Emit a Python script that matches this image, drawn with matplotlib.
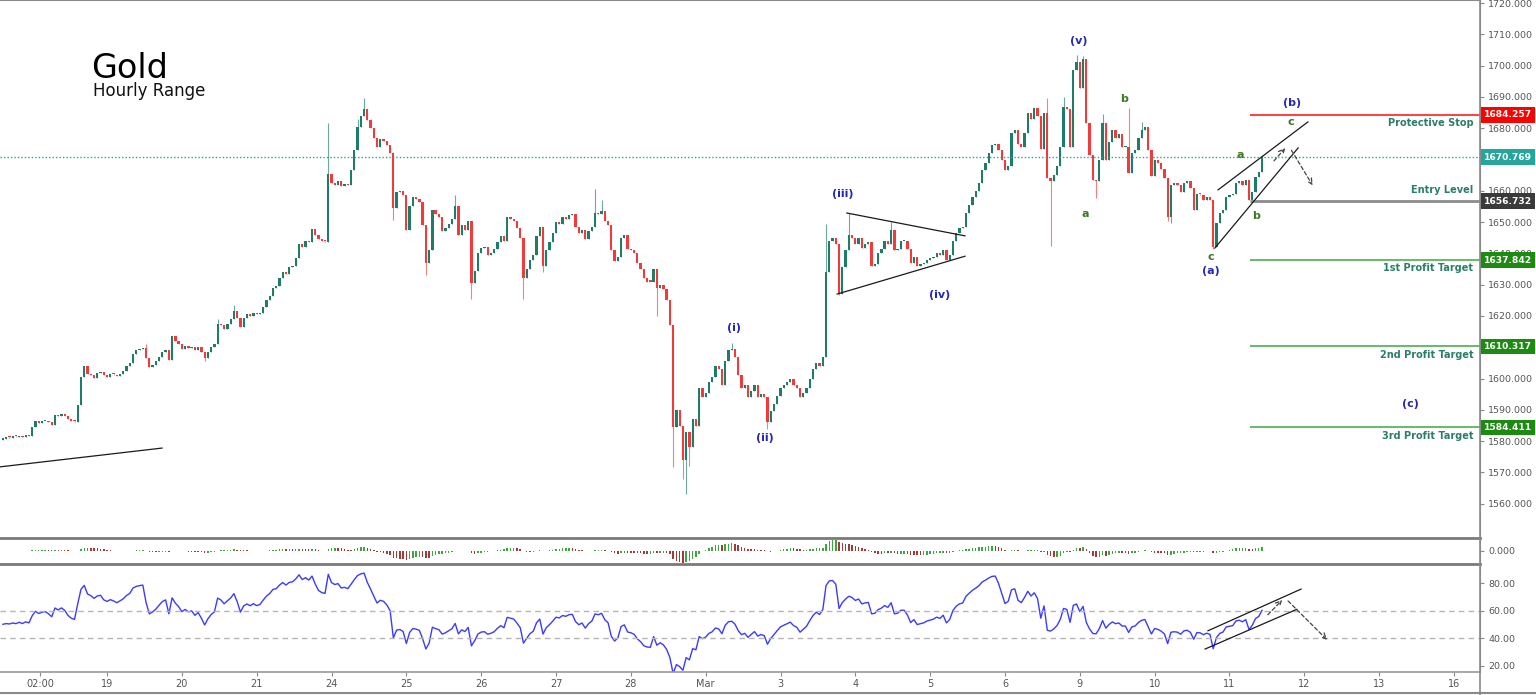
import numpy as np
import pandas as pd
import matplotlib
matplotlib.use("Agg")
import matplotlib.pyplot as plt
from matplotlib.lines import Line2D
from matplotlib import transforms

# cierres horarios (un bloque por sesion)
close_feb18 = [1580.8, 1581.2, 1581.0, 1581.5, 1581.2, 1581.8, 1581.3, 1582.0, 1581.6, 1584.5,
               1586.5, 1585.8, 1586.3, 1586.6, 1586.0, 1585.2, 1588.5, 1588.0, 1588.8, 1588.2,
               1587.0, 1586.3, 1586.0, 1591.5, 1600.5, 1604.0, 1601.5, 1601.0, 1600.2, 1601.8,
               1602.2, 1601.0]
close_feb19 = [1600.6, 1601.5, 1601.2, 1600.8, 1601.6, 1602.5, 1604.0, 1605.0, 1608.0, 1609.0,
               1609.5, 1609.8, 1606.5, 1603.8, 1604.5, 1605.5, 1607.0, 1608.5, 1609.2, 1606.0,
               1613.5, 1612.0, 1611.0]
close_feb20 = [1609.5, 1610.5, 1609.8, 1610.2, 1609.0, 1610.0, 1608.5, 1606.5, 1608.5, 1610.0,
               1611.0, 1617.5, 1617.0, 1616.0, 1617.5, 1619.0, 1621.5, 1619.5, 1616.5, 1619.5,
               1620.5, 1620.0, 1621.0]
close_feb21 = [1620.5, 1621.0, 1623.0, 1625.0, 1626.5, 1629.0, 1629.5, 1632.0, 1634.0, 1633.5,
               1635.5, 1636.0, 1638.5, 1643.0, 1642.0, 1644.0, 1643.5, 1647.8, 1646.0, 1644.5,
               1644.0, 1643.8, 1665.5]
close_feb24 = [1662.5, 1661.8, 1663.0, 1661.5, 1662.2, 1661.8, 1666.5, 1673.0, 1680.5, 1684.0,
               1686.0, 1682.6, 1680.0, 1677.0, 1674.0, 1676.5, 1676.0, 1674.5, 1672.0, 1654.5,
               1659.6, 1660.0, 1658.5]
close_feb25 = [1647.5, 1655.0, 1658.0, 1657.5, 1656.5, 1649.0, 1637.0, 1641.0, 1654.0, 1652.5,
               1651.5, 1647.0, 1648.0, 1649.5, 1651.0, 1655.0, 1646.0, 1649.0, 1647.5, 1650.5,
               1630.5, 1634.5, 1640.0]
close_feb26 = [1641.7, 1642.0, 1639.5, 1640.2, 1641.3, 1643.6, 1645.5, 1644.0, 1651.6, 1651.0,
               1650.5, 1648.0, 1645.0, 1632.0, 1635.0, 1638.0, 1639.5, 1645.5, 1648.4, 1636.0,
               1641.0, 1643.6, 1646.5]
close_feb27 = [1650.0, 1649.5, 1651.5, 1651.0, 1652.3, 1652.5, 1648.4, 1646.5, 1647.5, 1644.5,
               1647.0, 1648.5, 1653.0, 1652.6, 1653.5, 1650.5, 1649.0, 1641.0, 1637.5, 1639.0,
               1645.0, 1646.0, 1641.5]
close_feb28 = [1641.0, 1640.0, 1637.0, 1635.0, 1632.0, 1631.0, 1630.8, 1635.0, 1629.0, 1630.0,
               1628.5, 1625.0, 1617.0, 1584.5, 1590.0, 1585.0, 1574.0, 1583.0, 1578.0, 1587.0,
               1585.0, 1597.0, 1594.0]
close_mar02 = [1595.5, 1599.0, 1600.5, 1604.0, 1603.0, 1598.0, 1605.6, 1609.0, 1609.5, 1607.0,
               1601.0, 1597.0, 1598.0, 1594.0, 1596.0, 1598.0, 1594.0, 1595.0, 1594.0, 1586.0,
               1589.5, 1592.0, 1594.5]
close_mar03 = [1597.0, 1598.0, 1599.0, 1600.0, 1598.0, 1597.0, 1594.0, 1595.5, 1597.0, 1600.0,
               1603.0, 1605.0, 1604.0, 1607.0, 1634.0, 1644.0, 1645.0, 1643.0, 1627.0, 1635.6,
               1641.0, 1646.0, 1645.0]
close_mar04 = [1643.0, 1645.0, 1641.7, 1643.0, 1643.5, 1636.0, 1636.5, 1640.0, 1641.5, 1644.0,
               1643.0, 1647.5, 1641.0, 1641.5, 1644.0, 1644.0, 1641.5, 1637.0, 1639.0, 1636.0,
               1636.5, 1637.0, 1638.0]
close_mar05 = [1638.5, 1639.0, 1640.0, 1639.5, 1641.0, 1638.0, 1639.5, 1644.0, 1646.5, 1648.0,
               1648.5, 1653.0, 1655.5, 1658.0, 1660.0, 1662.5, 1666.7, 1669.0, 1672.0, 1674.5,
               1675.0, 1673.0, 1670.0]
close_mar06 = [1666.5, 1668.0, 1678.5, 1679.5, 1675.0, 1674.0, 1678.5, 1685.0, 1683.0, 1686.5,
               1684.0, 1673.5, 1685.0, 1664.0, 1663.0, 1665.0, 1668.0, 1674.0, 1686.8, 1686.0,
               1674.0, 1698.6, 1701.0]
close_mar09 = [1693.0, 1702.0, 1681.7, 1671.4, 1663.5, 1663.0, 1670.0, 1681.7, 1670.0, 1675.6,
               1679.5, 1677.0, 1678.0, 1674.0, 1674.0, 1665.6, 1672.0, 1673.0, 1677.0, 1679.5,
               1680.4, 1673.0, 1664.6]
close_mar10 = [1670.0, 1669.0, 1667.0, 1664.0, 1651.6, 1662.0, 1662.5, 1662.0, 1659.7, 1662.5,
               1663.0, 1661.0, 1654.0, 1659.0, 1658.7, 1657.0, 1658.0, 1657.0, 1642.0, 1649.7,
               1653.0, 1654.0, 1658.0]
close_mar11 = [1658.5, 1659.0, 1662.5, 1663.0, 1662.0, 1663.5, 1657.0, 1659.7, 1664.4, 1666.0,
               1670.8]
first_open = 1580.5

# mechas visibles (indice de vela -> precio)
wick_high = {44: 1611.0, 66: 1619.0, 71: 1623.5, 100: 1681.7, 109: 1683.0, 111: 1689.7,
             113: 1683.0, 120: 1672.5, 139: 1658.7, 182: 1660.5, 184: 1657.0, 224: 1611.4,
             253: 1649.5, 260: 1653.0, 273: 1650.0, 321: 1689.5, 326: 1690.0, 330: 1703.4,
             332: 1703.0, 338: 1684.5, 346: 1686.5, 350: 1682.0, 387: 1671.5}
wick_low = {62: 1605.5, 120: 1650.7, 130: 1633.0, 144: 1625.5, 160: 1625.5, 166: 1634.0,
            201: 1620.0, 206: 1571.8, 209: 1568.0, 210: 1563.2, 211: 1572.0, 235: 1584.0,
            257: 1626.8, 322: 1642.3, 336: 1657.7, 358: 1650.5, 359: 1649.7, 372: 1641.5}

# niveles de la operacion
level_names = ["Protective Stop", "Entry Level", "1st Profit Target",
               "2nd Profit Target", "3rd Profit Target"]
level_values = [1684.257, 1656.732, 1637.842, 1610.317, 1584.411]
last_price = 1670.769

# etiquetas de los ejes
day_labels = ["19", "20", "21", "24", "25", "26", "27", "28", "Mar",
              "3", "4", "5", "6", "9", "10", "11", "12", "13", "16"]
price_ticks = [1560, 1570, 1580, 1590, 1600, 1620, 1630, 1640, 1650, 1660,
               1680, 1690, 1700, 1710, 1720]

closes = np.array(close_feb18 + close_feb19 + close_feb20 + close_feb21 + close_feb24 +
                  close_feb25 + close_feb26 + close_feb27 + close_feb28 + close_mar02 +
                  close_mar03 + close_mar04 + close_mar05 + close_mar06 + close_mar09 +
                  close_mar10 + close_mar11)
n = len(closes)
idx = np.arange(n)
opens = np.r_[first_open, closes[:-1]]
highs = np.maximum(opens, closes)
lows = np.minimum(opens, closes)
for i, v in wick_high.items():
    highs[i] = max(highs[i], v)
for i, v in wick_low.items():
    lows[i] = min(lows[i], v)

# RSI de Wilder, arrancando con ganancias/perdidas medias iguales
avg_g, avg_l = 1.5, 1.5
rsi = [50.0]
for d in np.diff(closes):
    avg_g = (avg_g * 13 + max(d, 0)) / 14
    avg_l = (avg_l * 13 + max(-d, 0)) / 14
    rsi.append(100 - 100 / (1 + avg_g / avg_l))
rsi = np.array(rsi)

# histograma MACD
s = pd.Series(closes)
macd = s.ewm(span=12, adjust=False).mean() - s.ewm(span=26, adjust=False).mean()
hist = (macd - macd.ewm(span=9, adjust=False).mean()).values

# figura
W, H = 1536, 695
fig = plt.figure(figsize=(W / 100, H / 100), dpi=100)
plt.rcParams['font.family'] = ['DejaVu Sans']


def rect(x0, y0, x1, y1):
    return [x0 / W, 1 - y1 / H, (x1 - x0) / W, (y1 - y0) / H]


ax = fig.add_axes(rect(0, 0, 1480, 538))
axh = fig.add_axes(rect(0, 540, 1480, 564))
axr = fig.add_axes(rect(0, 566, 1480, 672))

XL = (-0.9, 454.0)
grey = '#555555'
for a in (ax, axh, axr):
    a.set_xlim(*XL)
    a.yaxis.tick_right()
    a.spines['left'].set_visible(False)
    a.spines['right'].set_color('#8a8a8a')
    a.tick_params(axis='y', length=3, colors='#8a8a8a', labelcolor=grey, labelsize=6.8, pad=3)
    a.set_xticks([])
ax.spines['top'].set_color('#8a8a8a')
ax.spines['top'].set_linewidth(1.5)
ax.spines['bottom'].set_color('#7a7a7a')
ax.spines['bottom'].set_linewidth(2)
axh.spines['top'].set_visible(False)
axh.spines['bottom'].set_color('#7a7a7a')
axh.spines['bottom'].set_linewidth(2)
axr.spines['top'].set_visible(False)
axr.spines['bottom'].set_color('#9a9a9a')
axr.spines['bottom'].set_linewidth(1.2)

# velas
up_c, dn_c = '#1f7d67', '#f23a3a'
cols = np.where(closes >= opens, up_c, dn_c)
ax.vlines(idx, lows, highs, colors=cols, lw=0.8, alpha=0.65)
body = np.where(np.abs(closes - opens) < 0.4, 0.4, closes - opens)
ax.bar(idx, body, bottom=opens, width=0.7, color=cols, linewidth=0)
ax.set_ylim(1549.07, 1720.96)
ax.set_yticks(price_ticks)
ax.yaxis.set_major_formatter(matplotlib.ticker.FormatStrFormatter('%.3f'))

# precio actual
ax.axhline(last_price, color='#26a69a', lw=1, ls=(0, (1, 1.5)))

# niveles
line_cols = ['#ff1f1f', '#8c8c8c', '#4caf50', '#4caf50', '#4caf50']
line_w = [1.2, 2.0, 1.2, 1.2, 1.2]
box_cols = ['#ff0000', '#3a3a3a', '#1d8a12', '#1d8a12', '#1d8a12']
text_off = [-6, 8, -6, -6, -6]
ytr = transforms.blended_transform_factory(ax.transAxes, ax.transData)
for name, val, lc, lw, bc, off in zip(level_names, level_values, line_cols, line_w,
                                      box_cols, text_off):
    ax.hlines(val, 383.3, XL[1], color=lc, lw=lw)
    ax.annotate(name, (452, val), xytext=(0, off), textcoords='offset points',
                ha='right', va='center', fontsize=7, fontweight='bold', color='#2b7e6a')
    ax.text(1.0 + 4 / 1480, val, f"{val:.3f}", transform=ytr, ha='left', va='center',
            fontsize=6.6, fontweight='bold', color='white', clip_on=False, zorder=5,
            bbox=dict(boxstyle='square,pad=0.35', fc=bc, ec='none'))
ax.text(1.0 + 4 / 1480, last_price, f"{last_price:.3f}", transform=ytr, ha='left',
        va='center', fontsize=6.6, fontweight='bold', color='white', clip_on=False, zorder=5,
        bbox=dict(boxstyle='square,pad=0.35', fc='#26a69a', ec='none'))

# titulo
ax.text(91 / 1480, 1 - 68 / 538, "Gold", transform=ax.transAxes, fontsize=24,
        va='center', ha='left', color='black')
ax.text(93 / 1480, 1 - 91 / 538, "Hourly Range", transform=ax.transAxes, fontsize=12,
        va='center', ha='left', color='#111111')

# ondas de Elliott
blue, olive = '#2626b8', '#3b7a22'
wave_blue = [("(i)", 224.7, 1616.2), ("(ii)", 234.2, 1581.0), ("(iii)", 258.2, 1659.0),
             ("(iv)", 288.0, 1626.7), ("(v)", 330.7, 1707.9), ("(a)", 371.3, 1634.4),
             ("(b)", 396.2, 1688.1), ("(c)", 432.5, 1591.9)]
wave_green = [("a", 332.6, 1652.6), ("b", 344.6, 1689.3), ("c", 371.3, 1638.9),
              ("a", 380.2, 1671.4), ("b", 385.1, 1652.0), ("c", 395.9, 1682.0)]
for t, x, y in wave_blue:
    ax.text(x, y, t, color=blue, fontsize=8, fontweight='bold', ha='center', va='center')
for t, x, y in wave_green:
    ax.text(x, y, t, color=olive, fontsize=8, fontweight='bold', ha='center', va='center')

# lineas dibujadas
lk = dict(color='#1a1a1a', lw=0.9)
ax.plot([259.4, 295.7], [1652.9, 1645.6], **lk)
ax.plot([256.4, 295.7], [1627.0, 1639.1], **lk)
ax.plot([-0.9, 48.9], [1571.8, 1577.8], **lk)
ax.plot([372.5, 398.1], [1641.7, 1673.7], **lk)
ax.plot([373.5, 401.1], [1660.3, 1682.0], **lk)
ak = dict(arrowstyle='->', linestyle=(0, (3, 2)), color='#444444', lw=0.9)
ax.annotate('', xy=(394.7, 1674.3), xytext=(390.1, 1668.9), arrowprops=ak)
ax.annotate('', xy=(403.0, 1661.0), xytext=(395.6, 1673.7), arrowprops=ak)

# histograma
hcols = np.where(np.r_[0, np.diff(hist)] >= 0, '#3fa63f', '#a33a3a')
axh.bar(idx, hist, width=0.45, color=hcols, linewidth=0)
lo = hist.min() * 1.08
axh.set_ylim(lo, -lo * 11 / 13)
axh.set_yticks([0])
axh.yaxis.set_major_formatter(matplotlib.ticker.FormatStrFormatter('%.3f'))

# RSI
axr.plot(idx, rsi, color='#3b3bff', lw=1)
axr.axhline(60, color='#b5b5b5', lw=1, ls=(0, (4, 3)))
axr.axhline(40, color='#b5b5b5', lw=1, ls=(0, (4, 3)))
axr.set_ylim(15.3, 92.4)
axr.set_yticks([20, 40, 60, 80])
axr.yaxis.set_major_formatter(matplotlib.ticker.FormatStrFormatter('%.2f'))
axr.plot([370.4, 399.0], [45.3, 75.6], **lk)
axr.plot([369.5, 397.7], [32.0, 60.9], **lk)
axr.annotate('', xy=(393.8, 69.1), xytext=(388.2, 55.5), arrowprops=ak)
axr.annotate('', xy=(407.6, 37.3), xytext=(394.4, 68.4), arrowprops=ak)

xt = [11.4] + [32 + 23 * k for k in range(len(day_labels))]
axr.set_xticks(xt)
axr.set_xticklabels(["02:00"] + day_labels)
axr.tick_params(axis='x', length=3, colors='#8a8a8a', labelcolor=grey, labelsize=7, pad=2)

# marco exterior
fig.add_artist(Line2D([1480 / W, 1480 / W], [0, 1], transform=fig.transFigure,
                      color='#8a8a8a', lw=1.2))
fig.add_artist(Line2D([0, 1], [1 - 693 / H, 1 - 693 / H], transform=fig.transFigure,
                      color='#8a8a8a', lw=1.5))

fig.savefig("out.png", dpi=100)
